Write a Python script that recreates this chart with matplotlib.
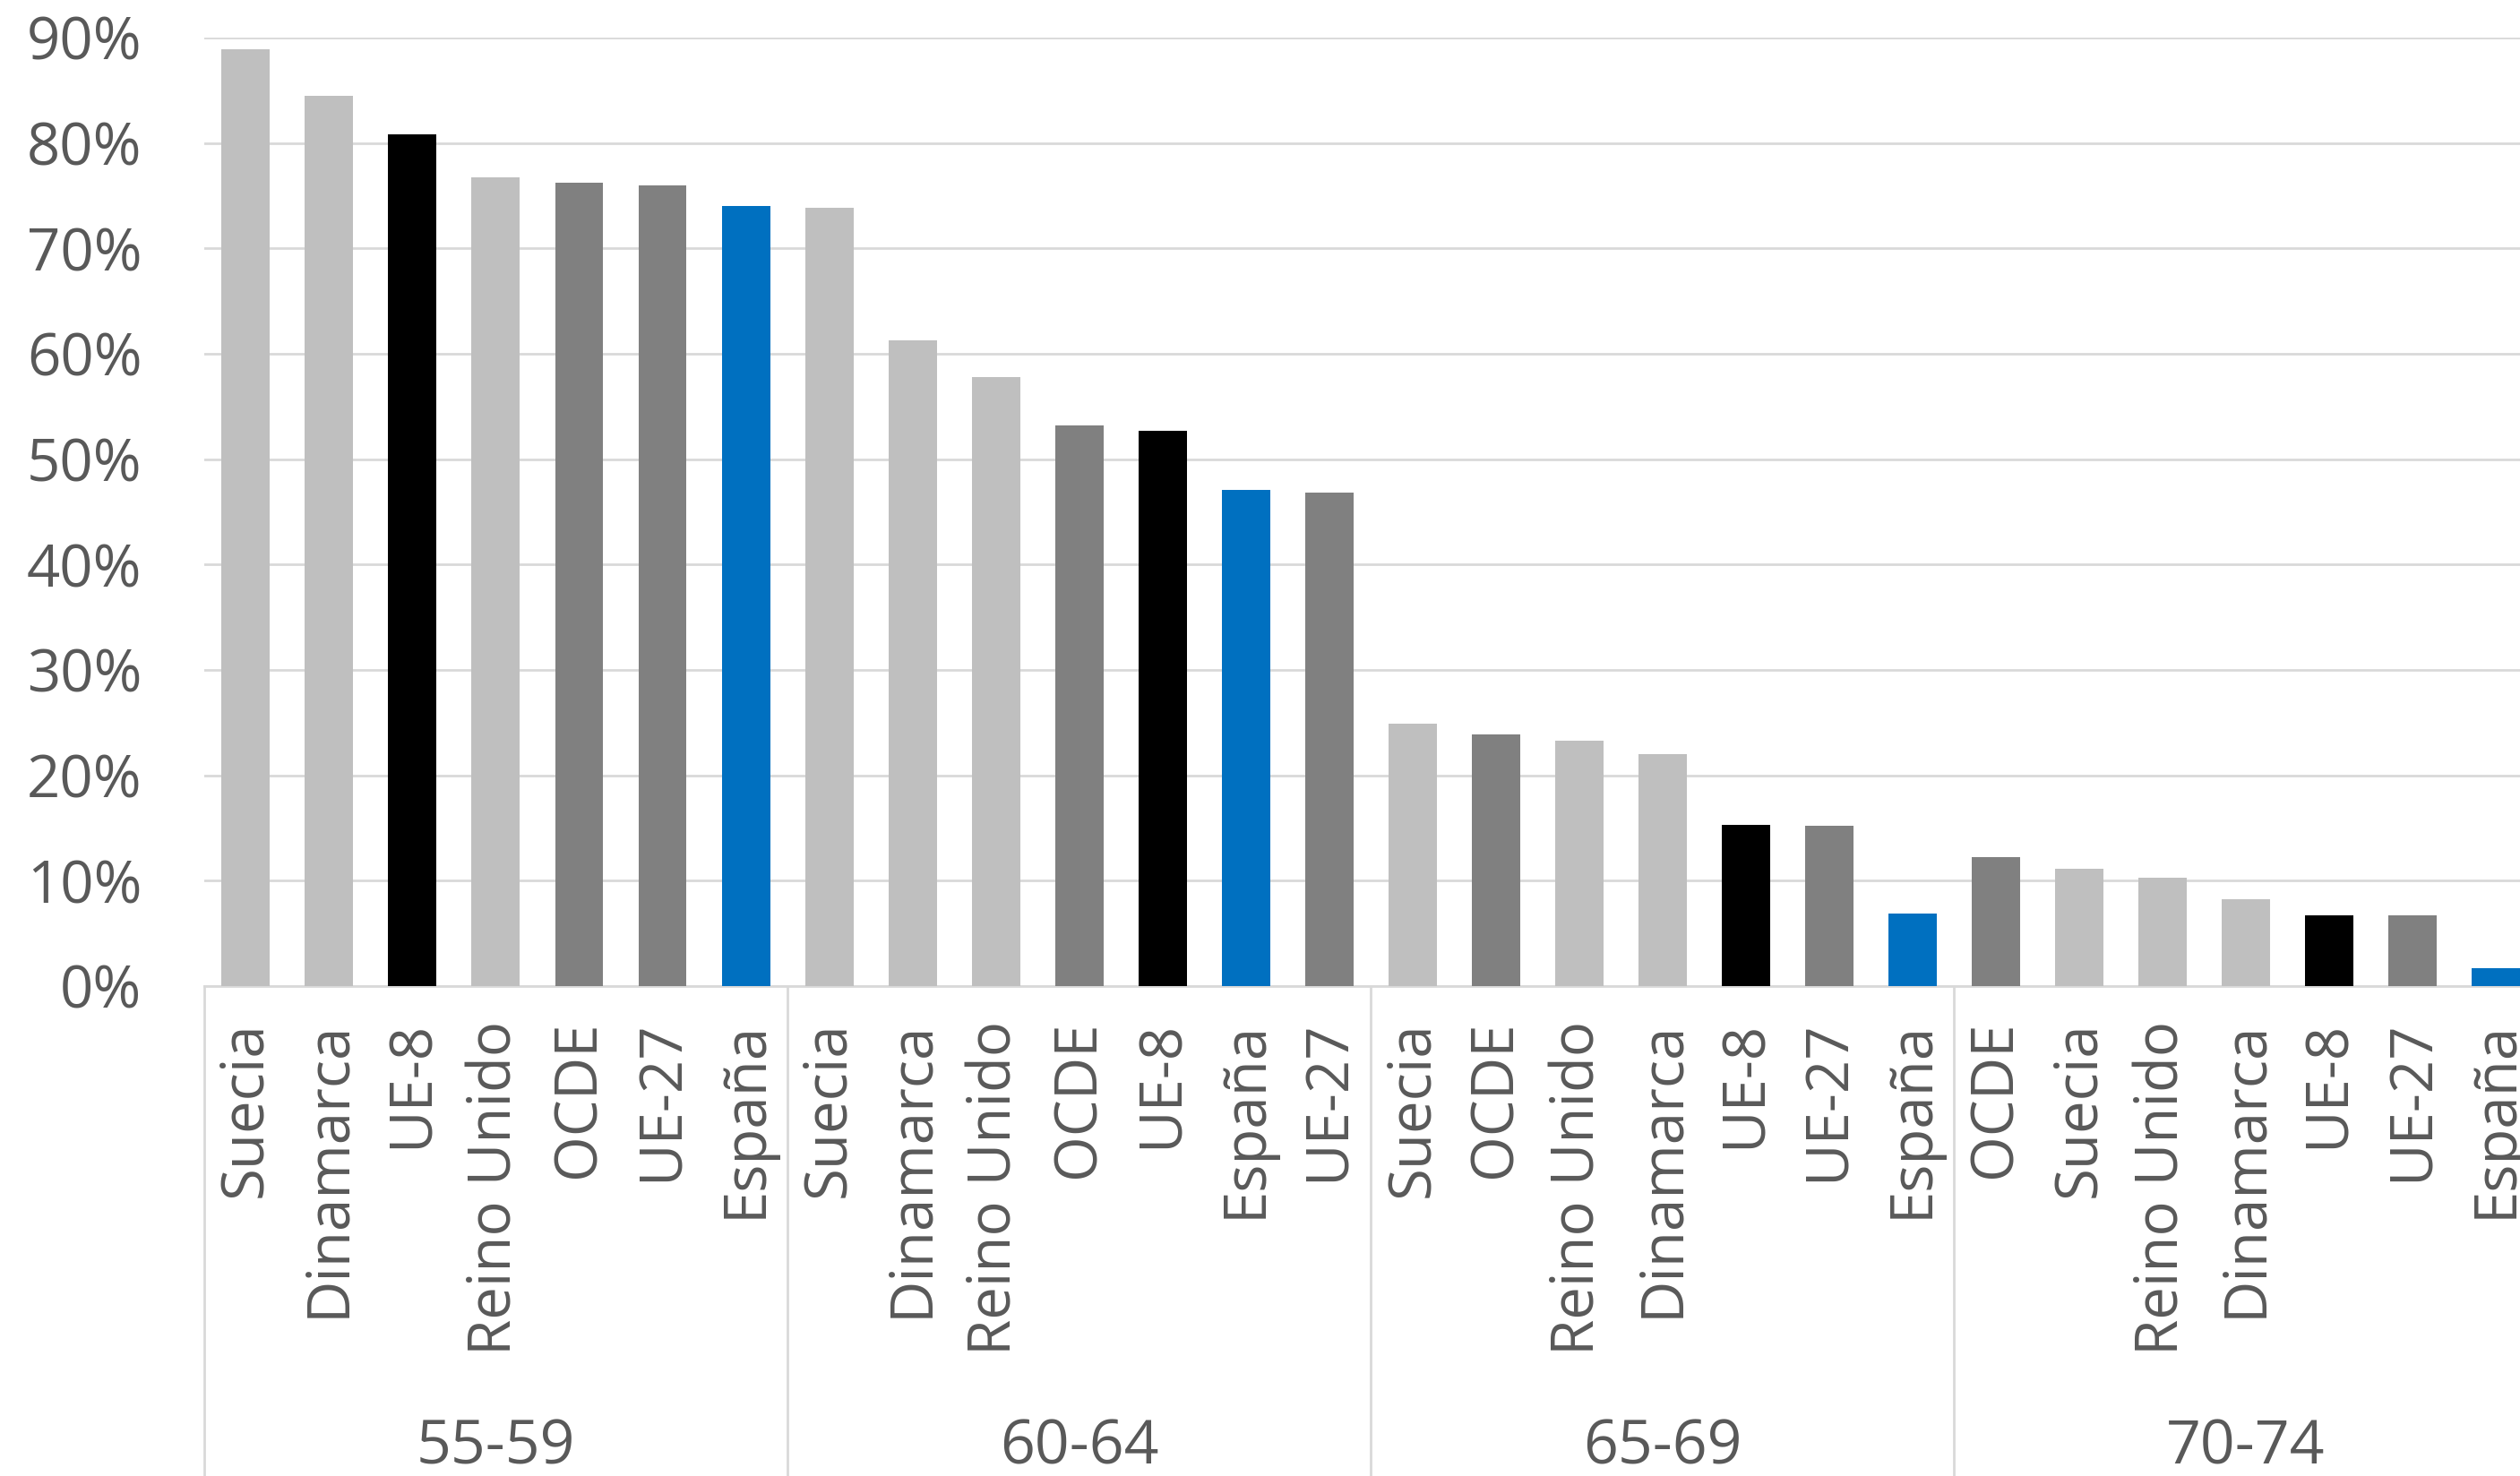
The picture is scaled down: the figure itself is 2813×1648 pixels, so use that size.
import numpy as np
import matplotlib
from matplotlib import pyplot as plt
from matplotlib import transforms

matplotlib.rcParams['font.family'] = ['Open Sans', 'DejaVu Sans']

grupos = ['55-59', '60-64', '65-69', '70-74']
etiquetas_55 = ['Suecia', 'Dinamarca', 'UE-8', 'Reino Unido', 'OCDE', 'UE-27', 'España']
etiquetas_60 = ['Suecia', 'Dinamarca', 'Reino Unido', 'OCDE', 'UE-8', 'España', 'UE-27']
etiquetas_65 = ['Suecia', 'OCDE', 'Reino Unido', 'Dinamarca', 'UE-8', 'UE-27', 'España']
etiquetas_70 = ['OCDE', 'Suecia', 'Reino Unido', 'Dinamarca', 'UE-8', 'UE-27', 'España']

valores_55 = [0.889, 0.845, 0.808, 0.767, 0.762, 0.760, 0.740]
valores_60 = [0.738, 0.613, 0.578, 0.532, 0.527, 0.471, 0.468]
valores_65 = [0.249, 0.239, 0.233, 0.220, 0.153, 0.152, 0.069]
valores_70 = [0.122, 0.111, 0.103, 0.082, 0.067, 0.067, 0.017]

colores = {
    'Suecia': '#bfbfbf', 'Dinamarca': '#bfbfbf', 'Reino Unido': '#bfbfbf',
    'OCDE': '#808080', 'UE-27': '#808080',
    'UE-8': '#000000', 'España': '#0070c0',
}
texto = '#595959'

etiquetas = etiquetas_55 + etiquetas_60 + etiquetas_65 + etiquetas_70
valores = valores_55 + valores_60 + valores_65 + valores_70
n_grupo = len(etiquetas_55)

fig = plt.figure(figsize=(28.13, 16.48), dpi=100)
ax = fig.add_axes([0.081, 0.332, 0.926, 0.6426])

x = np.arange(len(valores))
ax.bar(x, valores, width=0.58, color=[colores[e] for e in etiquetas], zorder=3)

ax.set_ylim(0, 0.9)
ax.set_xlim(-0.5, len(valores) - 0.5)
ax.set_yticks(np.arange(0, 0.91, 0.1))
ax.set_yticklabels(['%d%%' % round(v * 100) for v in np.arange(0, 0.91, 0.1)])
ax.yaxis.grid(True, color='#d9d9d9', linewidth=2, zorder=0)
ax.tick_params(axis='y', length=0, pad=50, labelsize=47, labelcolor=texto)

ax.set_xticks(x)
ax.set_xticklabels(etiquetas, rotation=90, va='top', ha='center')
ax.tick_params(axis='x', length=0, pad=28, labelsize=47, labelcolor=texto)

for s in ['top', 'right', 'left']:
    ax.spines[s].set_visible(False)
ax.spines['bottom'].set_color('#d9d9d9')
ax.spines['bottom'].set_linewidth(2)

# separadores de grupos y etiquetas de grupo
trans = transforms.blended_transform_factory(ax.transData, ax.transAxes)
for g in range(len(grupos) + 1):
    xs = g * n_grupo - 0.5
    ax.plot([xs, xs], [0, -0.52], color='#d9d9d9', linewidth=2,
            transform=trans, clip_on=False)
for g, nombre in enumerate(grupos):
    xc = g * n_grupo + (n_grupo - 1) / 2
    ax.text(xc, -0.487, nombre, transform=trans, ha='center', va='center',
            fontsize=49, color=texto)

plt.savefig('out.png', dpi=100)
